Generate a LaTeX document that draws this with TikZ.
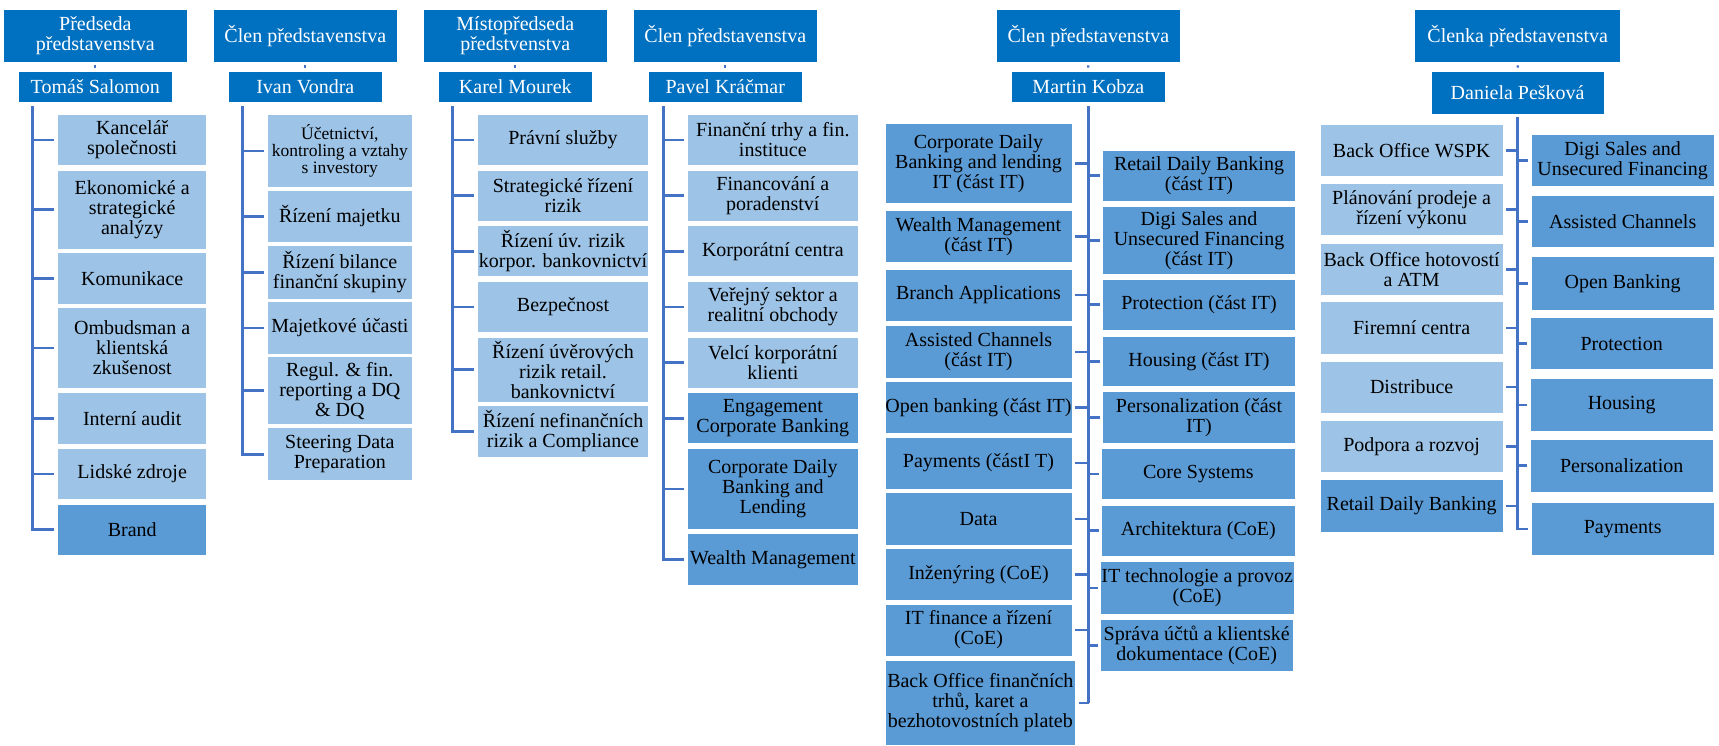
\documentclass[tikz,border=0pt]{standalone}
\usepackage{fontspec}
\setmainfont{Liberation Serif}
\definecolor{headblue}{HTML}{0070C0}
\definecolor{lightblue}{HTML}{9DC3E6}
\definecolor{darkblue}{HTML}{5B9BD5}
\definecolor{linkblue}{HTML}{4472C4}
% \orgbox{name}{style}{x1}{y1}{x2}{y2}{text}: box given by its corners
\newcommand\orgbox[7]{%
  \pgfmathsetmacro\orgw{#5-#3}%
  \pgfmathsetmacro\orgh{#6-#4}%
  \node[#2, minimum width=\orgw bp, minimum height=\orgh bp] (#1) at ({(#3+#5)/2},{(#4+#6)/2}) {#7};}
\begin{document}
\begin{tikzpicture}[x=1bp,y=-1bp,
  box/.style={draw=white, line width=0.8bp, inner sep=0pt, align=center,
    font=\fontsize{20bp}{20bp}\selectfont},
  head/.style={box, fill=headblue, text=white},
  light/.style={box, fill=lightblue, text=black},
  dark/.style={box, fill=darkblue, text=black},
  small/.style={font=\fontsize{17.5bp}{16.7bp}\selectfont},
  link/.style={draw=linkblue, line width=2.6bp},
  dot/.style={draw=linkblue, line width=2.2bp, shorten <=3bp, shorten >=3bp}]
\useasboundingbox (0,0) rectangle (1719,746);

% ---------- Tomáš Salomon ----------
\orgbox{h1}{head}{3.3}{9.3}{187.3}{62}{Předseda\\představenstva}
\orgbox{n1}{head}{18.3}{71}{172.3}{102.3}{Tomáš Salomon}
\orgbox{a1}{light}{57.7}{114.3}{206.7}{165.3}{Kancelář\\společnosti}
\orgbox{a2}{light}{57.7}{170}{206.7}{249.3}{Ekonomické a\\strategické\\analýzy}
\orgbox{a3}{light}{57.7}{252.3}{206.7}{304.3}{Komunikace}
\orgbox{a4}{light}{57.7}{307.7}{206.7}{388.3}{Ombudsman a\\klientská\\zkušenost}
\orgbox{a5}{light}{57.7}{392.7}{206.7}{444}{Interní audit}
\orgbox{a6}{light}{57.7}{448.3}{206.7}{499.3}{Lidské zdroje}
\orgbox{a7}{dark}{57.7}{504}{206.7}{555.3}{Brand}
\draw[dot] (h1.south) -- (n1.north);
\coordinate (s1) at (32.3,106);
\draw[link, shorten >=3.4bp] (s1) |- (a7.west);
\foreach \c in {a1,a2,a3,a4,a5,a6}
  \draw[link, shorten >=3.4bp] (s1 |- \c.west) -- (\c.west);

% ---------- Ivan Vondra ----------
\orgbox{h2}{head}{213.3}{9.3}{397.3}{62}{Člen představenstva}
\orgbox{n2}{head}{228.3}{71}{382.3}{102.3}{Ivan Vondra}
\orgbox{b1}{light,small}{267.7}{114.3}{412}{187.3}{Účetnictví,\\kontroling a vztahy\\s investory}
\orgbox{b2}{light}{267.7}{190}{412}{242.7}{Řízení majetku}
\orgbox{b3}{light}{267.7}{245.7}{412}{299}{Řízení bilance\\finanční skupiny}
\orgbox{b4}{light}{267.7}{301.7}{412}{354}{Majetkové účasti}
\orgbox{b5}{light}{267.7}{356.7}{412}{424.7}{Regul. \& fin.\\reporting a DQ\\\& DQ}
\orgbox{b6}{light}{267.7}{427.7}{412}{480.7}{Steering Data\\Preparation}
\draw[dot] (h2.south) -- (n2.north);
\coordinate (s2) at (242.3,106);
\draw[link, shorten >=3bp] (s2) |- (b6.west);
\foreach \c in {b1,b2,b3,b4,b5}
  \draw[link, shorten >=3bp] (s2 |- \c.west) -- (\c.west);

% ---------- Karel Mourek ----------
\orgbox{h3}{head}{423.3}{9.3}{607.3}{62}{Místopředseda\\předstvenstva}
\orgbox{n3}{head}{438.3}{71}{592.3}{102.3}{Karel Mourek}
\orgbox{c1}{light}{477.7}{114.3}{648.3}{165.7}{Právní služby}
\orgbox{c2}{light}{477.7}{170}{648.3}{221}{Strategické řízení\\rizik}
\orgbox{c3}{light}{477.7}{225.7}{648.3}{276.7}{Řízení úv. rizik\\korpor. bankovnictví}
\orgbox{c4}{light}{477.7}{281.7}{648.3}{332.3}{Bezpečnost}
\orgbox{c5}{light}{477.7}{337}{648.3}{402.3}{Řízení úvěrových\\rizik retail.\\bankovnictví}
\orgbox{c6}{light}{477.7}{405.3}{648.3}{457.7}{Řízení nefinančních\\rizik a Compliance}
\draw[dot] (h3.south) -- (n3.north);
\coordinate (s3) at (452.3,106);
\draw[link, shorten >=3bp] (s3) |- (c6.west);
\foreach \c in {c1,c2,c3,c4,c5}
  \draw[link, shorten >=3bp] (s3 |- \c.west) -- (\c.west);

% ---------- Pavel Kráčmar ----------
\orgbox{h4}{head}{633.3}{9.3}{817.3}{62}{Člen představenstva}
\orgbox{n4}{head}{648.3}{71}{802.3}{102.3}{Pavel Kráčmar}
\orgbox{d1}{light}{687.7}{114.3}{858}{165.7}{Finanční trhy a fin.\\instituce}
\orgbox{d2}{light}{687.7}{170}{858}{221}{Financování a\\poradenství}
\orgbox{d3}{light}{687.7}{225.7}{858}{276.7}{Korporátní centra}
\orgbox{d4}{light}{687.7}{281.7}{858}{332.3}{Veřejný sektor a\\realitní obchody}
\orgbox{d5}{light}{687.7}{337.3}{858}{388}{Velcí korporátní\\klienti}
\orgbox{d6}{dark}{687.7}{392.7}{858}{443.7}{Engagement\\Corporate Banking}
\orgbox{d7}{dark}{687.7}{448.3}{858}{529.3}{Corporate Daily\\Banking and\\Lending}
\orgbox{d8}{dark}{687.7}{533.3}{858}{585.3}{Wealth Management}
\draw[dot] (h4.south) -- (n4.north);
\coordinate (s4) at (663.3,106);
\draw[link, shorten >=3bp] (s4) |- (d8.west);
\foreach \c in {d1,d2,d3,d4,d5,d6,d7}
  \draw[link, shorten >=3bp] (s4 |- \c.west) -- (\c.west);

% ---------- Martin Kobza ----------
\orgbox{h5}{head}{996}{9.3}{1180.7}{62}{Člen představenstva}
\orgbox{n5}{head}{1011.3}{71}{1165.3}{102.3}{Martin Kobza}
\orgbox{e1}{dark}{885}{123.3}{1072}{203.3}{Corporate Daily\\Banking and lending\\IT (část IT)}
\orgbox{e2}{dark}{885}{210.7}{1072}{262.7}{Wealth Management\\(část IT)}
\orgbox{e3}{dark}{885}{269.3}{1072}{321}{Branch Applications}
\orgbox{e4}{dark}{885}{325.7}{1072}{378.3}{Assisted Channels\\(část IT)}
\orgbox{e5}{dark}{885}{381.3}{1072}{433.7}{Open banking (část IT)}
\orgbox{e6}{dark}{885}{437}{1072}{489.3}{Payments (částI T)}
\orgbox{e7}{dark}{885}{492.7}{1072}{545}{Data}
\orgbox{e8}{dark}{885}{548.3}{1072}{600.7}{Inženýring (CoE)}
\orgbox{e9}{dark}{885}{604}{1072}{656}{IT finance a řízení\\(CoE)}
\orgbox{e10}{dark}{885}{660.7}{1075.7}{745}{Back Office finančních\\trhů, karet a\\bezhotovostních plateb}
\orgbox{f1}{dark}{1102.3}{150}{1295.7}{201}{Retail Daily Banking\\(část IT)}
\orgbox{f2}{dark}{1102.3}{206.7}{1295.7}{274}{Digi Sales and\\Unsecured Financing\\(část IT)}
\orgbox{f3}{dark}{1102.3}{279}{1295.7}{330}{Protection (část IT)}
\orgbox{f4}{dark}{1102.3}{336}{1295.7}{386.7}{Housing (část IT)}
\orgbox{f5}{dark}{1102.3}{391.7}{1295.7}{443.7}{Personalization (část\\IT)}
\orgbox{f6}{dark}{1101}{448.7}{1295.7}{499.3}{Core Systems}
\orgbox{f7}{dark}{1101}{505}{1295.7}{556}{Architektura (CoE)}
\orgbox{f8}{dark}{1100}{561.7}{1294.3}{614.3}{IT technologie a provoz\\(CoE)}
\orgbox{f9}{dark}{1100}{619}{1293.3}{671.7}{Správa účtů a klientské\\dokumentace (CoE)}
\draw[dot] (h5.south) -- (n5.north);
\coordinate (s5) at (1088.7,106);
\draw[link] (s5) -- (s5 |- e10.east);
\foreach \c in {e1,e2,e3,e4,e5,e6,e7,e8,e9,e10}
  \draw[link, shorten <=3bp] (\c.east) -- (\c.east -| s5);
\foreach \c in {f1,f2,f3,f4,f5,f6,f7,f8,f9}
  \draw[link, shorten >=2bp] (s5 |- \c.west) -- (\c.west);

% ---------- Daniela Pešková ----------
\orgbox{h6}{head}{1414.7}{9.3}{1620.7}{62}{Členka představenstva}
\orgbox{n6}{head}{1431}{71}{1604.3}{114}{Daniela Pešková}
\orgbox{g1}{light}{1320}{124.3}{1503.3}{176.7}{Back Office WSPK}
\orgbox{g2}{light}{1320}{183.7}{1503.3}{235.3}{Plánování prodeje a\\řízení výkonu}
\orgbox{g3}{light}{1320}{243.3}{1503.3}{295.7}{Back Office hotovostí\\a ATM}
\orgbox{g4}{light}{1320}{301.7}{1503.3}{354}{Firemní centra}
\orgbox{g5}{light}{1320}{361}{1503.3}{413.3}{Distribuce}
\orgbox{g6}{light}{1320}{420.3}{1503.3}{472.7}{Podpora a rozvoj}
\orgbox{g7}{dark}{1320}{479.7}{1503.3}{532.3}{Retail Daily Banking}
\orgbox{k1}{dark}{1531}{134.3}{1714.3}{186.7}{Digi Sales and\\Unsecured Financing}
\orgbox{k2}{dark}{1531}{195.3}{1714.3}{247.7}{Assisted Channels}
\orgbox{k3}{dark}{1531}{256.7}{1714.3}{310}{Open Banking}
\orgbox{k4}{dark}{1530}{317.7}{1713.3}{369.3}{Protection}
\orgbox{k5}{dark}{1530}{378.3}{1713.3}{431.3}{Housing}
\orgbox{k6}{dark}{1530}{439.3}{1713.3}{492}{Personalization}
\orgbox{k7}{dark}{1531}{502.3}{1714.3}{555.3}{Payments}
\draw[dot] (h6.south) -- (n6.north);
\coordinate (s6) at (1517.3,116.7);
\draw[link, shorten >=2.7bp] (s6) |- (k7.west);
\foreach \c in {g1,g2,g3,g4,g5,g6,g7}
  \draw[link, shorten <=2.7bp] (\c.east) -- (\c.east -| s6);
\foreach \c in {k1,k2,k3,k4,k5,k6}
  \draw[link, shorten >=2.7bp] (s6 |- \c.west) -- (\c.west);
\end{tikzpicture}
\end{document}
